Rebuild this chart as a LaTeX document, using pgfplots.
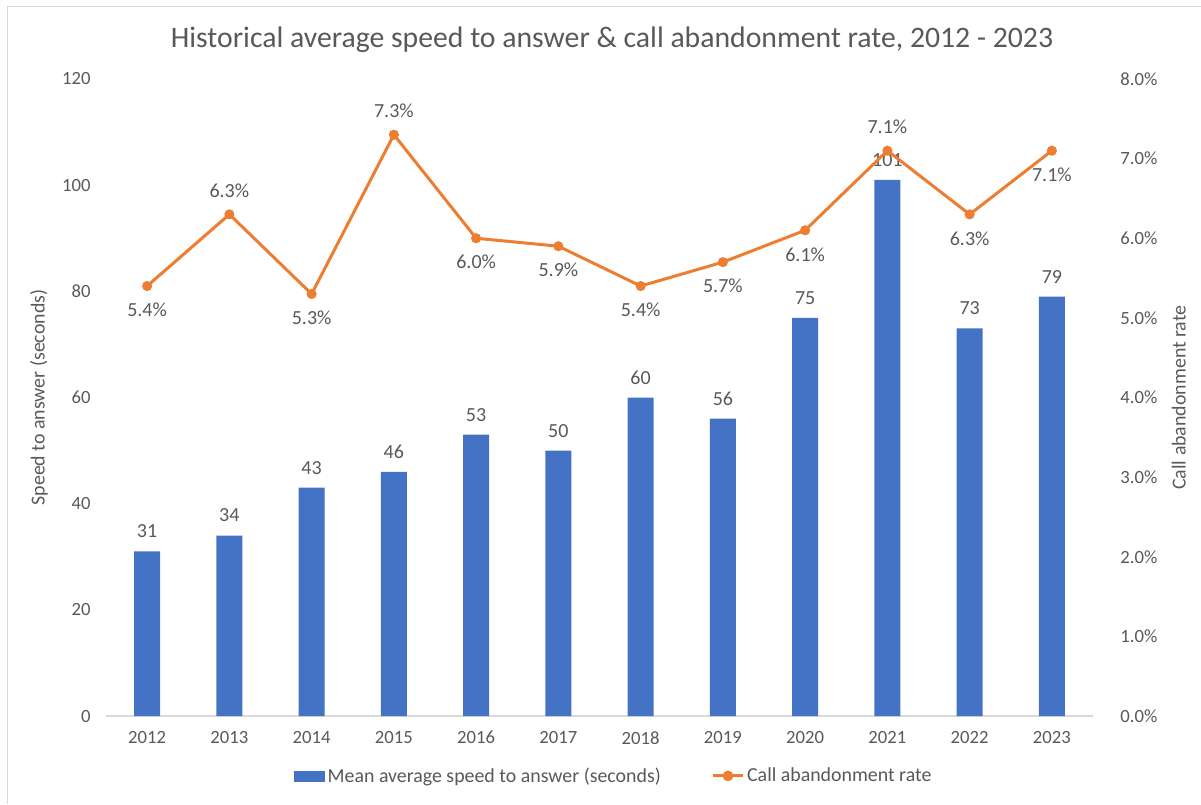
\documentclass[border=0pt]{standalone}
\usepackage{fontspec}
\setmainfont{Carlito}
\usepackage{pgfplots}
\pgfplotsset{compat=1.18}
\definecolor{barblue}{HTML}{4472C4}
\definecolor{lineorange}{HTML}{ED7D31}
\definecolor{txt}{HTML}{595959}
\definecolor{axgray}{HTML}{D9D9D9}
\begin{document}
\begin{tikzpicture}
\path[use as bounding box] (0,0) rectangle (900.75pt,603pt);
\draw[axgray,line width=0.75pt] (5.25pt,0pt) -- (5.25pt,597.75pt) -- (900.75pt,597.75pt);
\node[txt,font=\fontsize{22.3}{26}\selectfont] at (459pt,573pt) {Historical average speed to answer \& call abandonment rate, 2012 - 2023};
\pgfplotsset{
  every axis/.append style={
    scale only axis, width=740.25pt, height=477.75pt,
    at={(79.5pt,66pt)}, anchor=south west,
    xmin=-0.5, xmax=11.5,
    /pgf/number format/assume math mode=true,
    tick label style={txt,font=\fontsize{14}{16}\selectfont},
    label style={txt,font=\fontsize{14.9}{17}\selectfont},
    major tick length=0pt,
  }
}
\begin{axis}[
  ymin=0, ymax=120, ytick={0,20,...,120},
  axis x line*=bottom, axis y line=none,
  x axis line style={axgray,line width=1pt},
  xtick={0,...,11},
  xticklabels={2012,2013,2014,2015,2016,2017,2018,2019,2020,2021,2022,2023},
  xticklabel style={yshift=-8pt},
  ybar, bar width=19.5pt,
  nodes near coords,
  every node near coord/.append style={txt,font=\fontsize{15}{17}\selectfont,anchor=center,yshift=15pt},
]
\addplot[fill=barblue,draw=none,bar shift=0pt] coordinates {
(0,31) (1,34) (2,43) (3,46) (4,53) (5,50) (6,60) (7,56) (8,75) (9,101) (10,73) (11,79)};
\end{axis}
\begin{axis}[
  ymin=0, ymax=120, ytick={0,20,...,120},
  hide x axis, axis y line*=left, y axis line style={draw=none},
  yticklabel style={xshift=-8pt},
  ylabel={Speed to answer (seconds)}, ylabel style={yshift=4pt},
  xtick=\empty,
]
\addplot[draw=none] coordinates {(0,0)};
\end{axis}
\begin{axis}[
  ymin=0, ymax=8, ytick={0,1,...,8},
  hide x axis, axis y line*=right, y axis line style={draw=none},
  yticklabel={\pgfmathprintnumber[fixed,fixed zerofill,precision=1]{\tick}\%},
  yticklabel style={xshift=17pt},
  ylabel={Call abandonment rate}, ylabel style={yshift=-4pt},
  xtick=\empty,
  legend style={at={(0.515,-0.094)},anchor=center,draw=none,legend columns=2,
    font=\fontsize{14.9}{17}\selectfont,text=txt,
    /tikz/every even column/.append style={column sep=36pt}},
]
\addlegendimage{legend image code/.code={\fill[barblue] (0pt,-3.75pt) rectangle (22.5pt,3.75pt);}}
\addlegendentry{Mean average speed to answer (seconds)}
\addplot[lineorange,line width=2.25pt,mark=*,mark size=2.6pt,mark options={fill=lineorange,draw=lineorange},
  legend image code/.code={\draw[lineorange,line width=2.25pt] (0pt,0pt) -- (22.5pt,0pt); \fill[lineorange] (11.25pt,0pt) circle (2.8pt);}] coordinates {
(0,5.4) (1,6.3) (2,5.3) (3,7.3) (4,6.0) (5,5.9) (6,5.4) (7,5.7) (8,6.1) (9,7.1) (10,6.3) (11,7.1)};
\addlegendentry{Call abandonment rate}
\addplot[draw=none,mark=none,forget plot,
  nodes near coords={\pgfmathprintnumber[fixed,fixed zerofill,precision=1]{\pgfplotspointmeta}\%},
  every node near coord/.append style={txt,font=\fontsize{15}{17}\selectfont,anchor=center,yshift=18pt}]
  coordinates {(1,6.3) (3,7.3) (9,7.1)};
\addplot[draw=none,mark=none,forget plot,
  nodes near coords={\pgfmathprintnumber[fixed,fixed zerofill,precision=1]{\pgfplotspointmeta}\%},
  every node near coord/.append style={txt,font=\fontsize{15}{17}\selectfont,anchor=center,yshift=-18pt}]
  coordinates {(0,5.4) (2,5.3) (4,6.0) (5,5.9) (6,5.4) (7,5.7) (8,6.1) (10,6.3) (11,7.1)};
\end{axis}
\end{tikzpicture}
\end{document}
